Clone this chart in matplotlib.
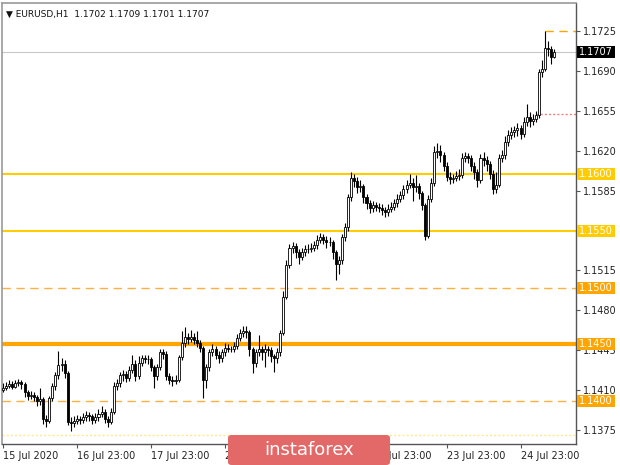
import matplotlib
matplotlib.use('Agg')
import matplotlib.pyplot as plt
from matplotlib.patches import Rectangle, FancyBboxPatch

# ---------------- data ----------------
first_open = 1.1410
closes = [
    1.1412, 1.1414, 1.1415, 1.1413, 1.1416, 1.1417, 1.1415, 1.1408, 1.1405, 1.1406,
    1.1404, 1.1400, 1.1402, 1.1385, 1.1383, 1.1403, 1.1414, 1.1423, 1.1432, 1.1433,
    1.1425, 1.1382, 1.1381, 1.1383, 1.1385, 1.1384, 1.1386, 1.1388, 1.1387, 1.1384,
    1.1386, 1.1389, 1.1391, 1.1385, 1.1382, 1.1391, 1.1414, 1.1416, 1.1423, 1.1424,
    1.1421, 1.1428, 1.1433, 1.1422, 1.1434, 1.1438, 1.1437, 1.1437, 1.1430, 1.1422,
    1.1430, 1.1443, 1.1442, 1.1422, 1.1419, 1.1418, 1.1419, 1.1439, 1.1451, 1.1457,
    1.1455, 1.1457, 1.1454, 1.1451, 1.1447, 1.1419, 1.1430, 1.1443, 1.1446, 1.1441,
    1.1438, 1.1443, 1.1447, 1.1446, 1.1446, 1.1449, 1.1456, 1.1460, 1.1462, 1.1461,
    1.1446, 1.1434, 1.1443, 1.1446, 1.1443, 1.1446, 1.1445, 1.1440, 1.1438, 1.1443,
    1.1460, 1.1492, 1.1520, 1.1535, 1.1536, 1.1531, 1.1527, 1.1531, 1.1534, 1.1534,
    1.1535, 1.1537, 1.1542, 1.1544, 1.1542, 1.1540, 1.1540, 1.1531, 1.1521, 1.1524,
    1.1544, 1.1553, 1.1579, 1.1596, 1.1593, 1.1588, 1.1589, 1.1579, 1.1574, 1.1570,
    1.1572, 1.1571, 1.1570, 1.1568, 1.1566, 1.1569, 1.1571, 1.1574, 1.1578, 1.1581,
    1.1586, 1.1590, 1.1592, 1.1588, 1.1589, 1.1583, 1.1572, 1.1545, 1.1578, 1.1592,
    1.1619, 1.1620, 1.1616, 1.1607, 1.1597, 1.1595, 1.1596, 1.1598, 1.1599, 1.1614,
    1.1615, 1.1614, 1.1607, 1.1601, 1.1594, 1.1614, 1.1612, 1.1608, 1.1600, 1.1586,
    1.1590, 1.1614, 1.1616, 1.1628, 1.1634, 1.1636, 1.1638, 1.1640, 1.1635, 1.1645,
    1.1650, 1.1646, 1.1648, 1.1651, 1.1689, 1.1692, 1.1710, 1.1709, 1.1702, 1.1707,
]
highs = [
    1.1416, 1.1417, 1.1419, 1.1418, 1.1419, 1.1420, 1.1419, 1.1417, 1.1410, 1.1409,
    1.1408, 1.1406, 1.1412, 1.1404, 1.1388, 1.1405, 1.1416, 1.1426, 1.1444, 1.1438,
    1.1436, 1.1427, 1.1386, 1.1387, 1.1388, 1.1387, 1.1390, 1.1392, 1.1391, 1.1389,
    1.1390, 1.1393, 1.1396, 1.1393, 1.1387, 1.1394, 1.1417, 1.1420, 1.1426, 1.1428,
    1.1427, 1.1431, 1.1441, 1.1436, 1.1440, 1.1441, 1.1441, 1.1441, 1.1439, 1.1432,
    1.1433, 1.1446, 1.1446, 1.1444, 1.1425, 1.1422, 1.1423, 1.1441, 1.1462, 1.1465,
    1.1460, 1.1463, 1.1460, 1.1462, 1.1454, 1.1449, 1.1433, 1.1446, 1.1450, 1.1449,
    1.1444, 1.1446, 1.1451, 1.1450, 1.1449, 1.1452, 1.1459, 1.1464, 1.1466, 1.1466,
    1.1463, 1.1448, 1.1446, 1.1458, 1.1449, 1.1450, 1.1449, 1.1448, 1.1442, 1.1447,
    1.1463, 1.1497, 1.1524, 1.1538, 1.1540, 1.1539, 1.1534, 1.1535, 1.1537, 1.1538,
    1.1539, 1.1541, 1.1546, 1.1548, 1.1547, 1.1545, 1.1544, 1.1542, 1.1533, 1.1528,
    1.1547, 1.1557, 1.1582, 1.1601, 1.1600, 1.1597, 1.1594, 1.1591, 1.1582, 1.1577,
    1.1576, 1.1575, 1.1574, 1.1573, 1.1571, 1.1573, 1.1575, 1.1578, 1.1582, 1.1585,
    1.1590, 1.1594, 1.1600, 1.1596, 1.1599, 1.1592, 1.1585, 1.1574, 1.1581, 1.1596,
    1.1624, 1.1627, 1.1625, 1.1619, 1.1610, 1.1601, 1.1600, 1.1602, 1.1604, 1.1618,
    1.1619, 1.1618, 1.1616, 1.1610, 1.1604, 1.1617, 1.1619, 1.1615, 1.1611, 1.1603,
    1.1601, 1.1617, 1.1621, 1.1633, 1.1638, 1.1641, 1.1642, 1.1644, 1.1643, 1.1650,
    1.1661, 1.1654, 1.1652, 1.1655, 1.1692, 1.1700, 1.1725, 1.1716, 1.1712, 1.1709,
]
lows = [
    1.1408, 1.1410, 1.1412, 1.1411, 1.1412, 1.1414, 1.1411, 1.1404, 1.1401, 1.1402,
    1.1400, 1.1396, 1.1397, 1.1380, 1.1378, 1.1381, 1.1400, 1.1410, 1.1420, 1.1427,
    1.1421, 1.1379, 1.1374, 1.1378, 1.1380, 1.1380, 1.1381, 1.1383, 1.1383, 1.1380,
    1.1381, 1.1383, 1.1386, 1.1381, 1.1378, 1.1380, 1.1389, 1.1410, 1.1413, 1.1418,
    1.1417, 1.1418, 1.1425, 1.1418, 1.1420, 1.1431, 1.1434, 1.1433, 1.1427, 1.1412,
    1.1419, 1.1428, 1.1437, 1.1419, 1.1415, 1.1414, 1.1415, 1.1417, 1.1436, 1.1448,
    1.1450, 1.1452, 1.1450, 1.1448, 1.1443, 1.1403, 1.1412, 1.1427, 1.1440, 1.1437,
    1.1434, 1.1435, 1.1440, 1.1443, 1.1443, 1.1443, 1.1446, 1.1453, 1.1457, 1.1456,
    1.1440, 1.1425, 1.1430, 1.1440, 1.1436, 1.1430, 1.1440, 1.1435, 1.1426, 1.1434,
    1.1440, 1.1458, 1.1490, 1.1517, 1.1530, 1.1526, 1.1521, 1.1524, 1.1528, 1.1530,
    1.1531, 1.1532, 1.1534, 1.1539, 1.1538, 1.1535, 1.1536, 1.1525, 1.1507, 1.1512,
    1.1521, 1.1541, 1.1550, 1.1576, 1.1588, 1.1583, 1.1584, 1.1574, 1.1569, 1.1565,
    1.1566, 1.1567, 1.1566, 1.1564, 1.1562, 1.1563, 1.1566, 1.1568, 1.1571, 1.1575,
    1.1578, 1.1583, 1.1587, 1.1576, 1.1584, 1.1578, 1.1568, 1.1542, 1.1543, 1.1575,
    1.1589, 1.1614, 1.1610, 1.1602, 1.1593, 1.1591, 1.1592, 1.1593, 1.1594, 1.1596,
    1.1610, 1.1609, 1.1602, 1.1595, 1.1588, 1.1592, 1.1607, 1.1602, 1.1595, 1.1582,
    1.1583, 1.1588, 1.1610, 1.1613, 1.1624, 1.1630, 1.1632, 1.1633, 1.1630, 1.1632,
    1.1642, 1.1641, 1.1643, 1.1645, 1.1649, 1.1685, 1.1690, 1.1703, 1.1696, 1.1701,
]
opens = [first_open] + closes[:-1]

x_label_bars = [0, 24, 48, 72, 96, 120, 144, 168]
x_labels = ['15 Jul 2020', '16 Jul 23:00', '17 Jul 23:00', '20 Jul 23:00',
            '21 Jul 23:00', '22 Jul 23:00', '23 Jul 23:00', '24 Jul 23:00']

y_ticks = [1.1725, 1.1690, 1.1655, 1.1620, 1.1585, 1.1550, 1.1515, 1.1480, 1.1445, 1.1410, 1.1375]
y_hidden = [1.1550]   # tick covered by the 1.1550 level box

# level lines: value, colour, style, width
level_values = [1.1600, 1.1550, 1.1500, 1.1450, 1.1400]
level_colors = ['#FFCC00', '#FFCC00', '#FBB040', '#FFA500', '#FBB040']
level_styles = ['-', '-', (0, (6, 4)), '-', (0, (6, 4))]
level_widths = [1.5, 1.5, 1.0, 3.0, 1.0]
dotted_level = 1.1371
current_price = 1.1707
high_mark = 1.1725
high_mark_bar = 176
pink_level = 1.1652
pink_bar = 173
header = '\u25BC EURUSD,H1  1.1702 1.1709 1.1701 1.1707'

# ---------------- figure ----------------
W, H = 620, 465
fig = plt.figure(figsize=(W / 100, H / 100), dpi=100)
fig.patch.set_facecolor('white')
ax_l, ax_r, ax_t, ax_b = 2, 576, 3, 444
ax = fig.add_axes([ax_l / W, 1 - ax_b / H, (ax_r - ax_l) / W, (ax_b - ax_t) / H])
ax.set_facecolor('white')

n = len(closes)
xs = list(range(n))
ax.set_xlim(-0.32, 186.0)
ax.set_ylim(1.13627, 1.17496)

# level lines (behind candles)
for v, c, ls, lw in zip(level_values, level_colors, level_styles, level_widths):
    ax.axhline(v, color=c, linestyle=ls, linewidth=lw, zorder=1)
ax.axhline(dotted_level, color='#FFE98A', linestyle=(0, (1.5, 1.5)), linewidth=1.0, zorder=1)
ax.axhline(current_price, color='#C8C8C8', linewidth=0.8, zorder=1)
ax.hlines(high_mark, high_mark_bar, 186, color='#FFA500', linestyle=(0, (6, 4)), linewidth=1.0, zorder=1)
ax.hlines(pink_level, pink_bar, 186, color='#F08080', linestyle=(0, (1.5, 1.5)), linewidth=1.0, zorder=1)

# candles
ax.vlines(xs, lows, highs, color='black', linewidth=0.8, zorder=2)
for i in xs:
    o, c = opens[i], closes[i]
    bottom = min(o, c)
    height = abs(c - o)
    fc = 'white' if c >= o else 'black'
    ax.add_patch(Rectangle((i - 0.33, bottom), 0.66, max(height, 0.00002),
                           facecolor=fc, edgecolor='black', linewidth=0.6, zorder=3))

# spines
for s in ['left', 'top']:
    ax.spines[s].set_color('#999999')
    ax.spines[s].set_linewidth(1.2)
for s in ['right', 'bottom']:
    ax.spines[s].set_color('#555555')
    ax.spines[s].set_linewidth(1.0)

# y ticks on right
ax.yaxis.tick_right()
ax.set_yticks(y_ticks)
ax.set_yticklabels(['' if v in y_hidden else '%.4f' % v for v in y_ticks],
                   fontsize=7, color='#222222')
ax.tick_params(axis='y', length=3, width=0.8, color='#555555', pad=2)

# x ticks
ax.set_xticks(x_label_bars)
ax.set_xticklabels(x_labels, fontsize=7, color='#222222', ha='left')
ax.tick_params(axis='x', length=3, width=0.8, color='#555555', pad=2)

# right side labels for levels
trans = ax.get_yaxis_transform()
box_x0 = (577 - ax_l) / (ax_r - ax_l)
box_w = 38 / (ax_r - ax_l)
box_h = 12 * (1.17496 - 1.13627) / (ax_b - ax_t)
def price_box(v, fc, tc):
    ax.add_patch(Rectangle((box_x0, v - box_h / 2), box_w, box_h, transform=trans,
                           facecolor=fc, edgecolor='none', clip_on=False, zorder=5))
    ax.text(box_x0 + box_w / 2, v, '%.4f' % v, transform=trans, ha='center', va='center',
            fontsize=7, color=tc, clip_on=False, zorder=6)

for v, c in zip(level_values, level_colors):
    price_box(v, '#FFCC00' if c == '#FFCC00' else '#FFA500', 'white')
price_box(current_price, 'black', 'white')

# header
ax.text(4 / (ax_r - ax_l), 1 - 7 / (ax_b - ax_t), header, transform=ax.transAxes,
        fontsize=6.5, color='#111111', ha='left', va='top', zorder=6)

# watermark
fig.patches.append(FancyBboxPatch((228 / W, 0), 162 / W, 30 / H,
                                  boxstyle='round,pad=0,rounding_size=0.006',
                                  transform=fig.transFigure, facecolor='#E36868',
                                  edgecolor='none', zorder=10))
fig.text(309 / W, 15 / H, 'instaforex', ha='center', va='center', fontsize=13,
         color='white', zorder=11)

fig.savefig('out.png', dpi=100)
